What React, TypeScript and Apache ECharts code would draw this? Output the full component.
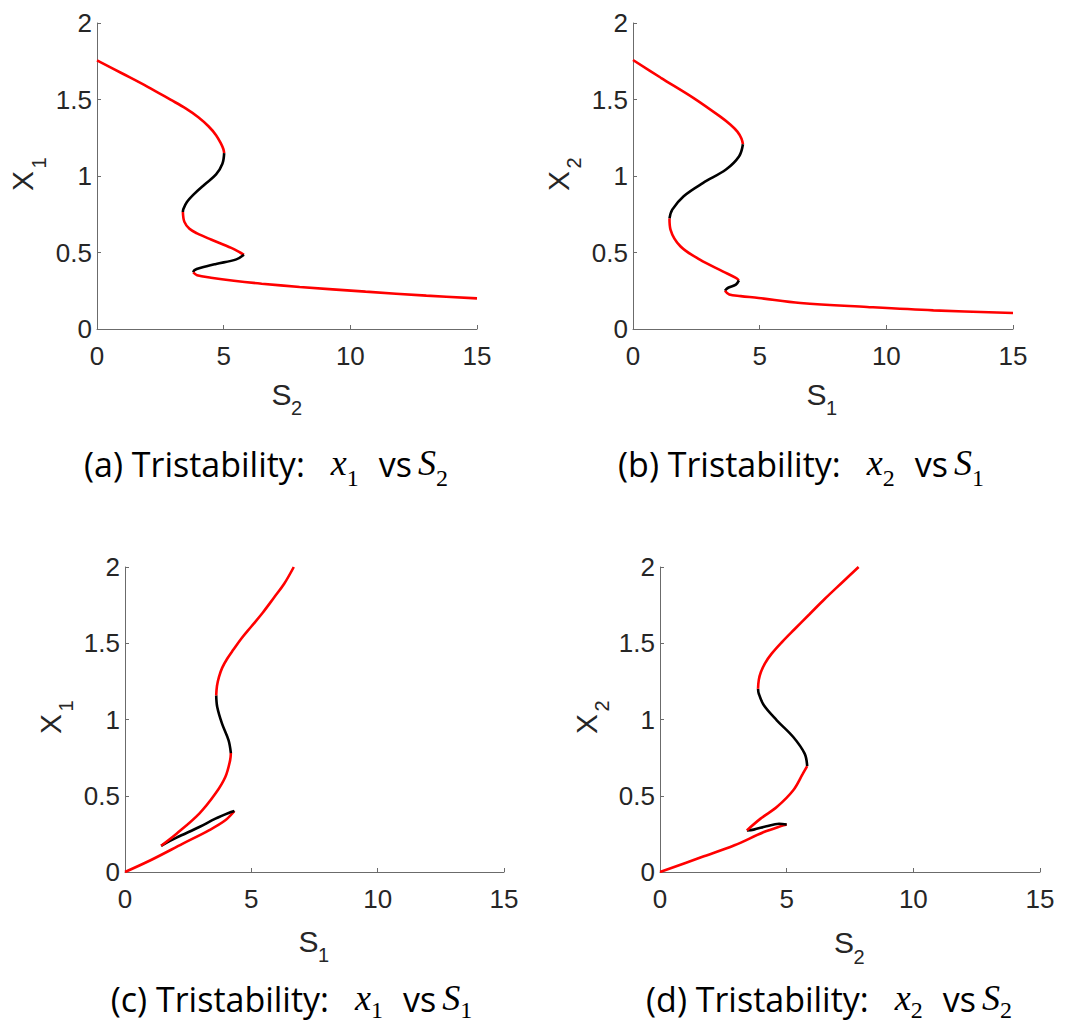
import React, { useEffect, useRef } from "react";
import * as echarts from "echarts";

// ---------- data (S, x) pairs ----------
// (a) x1 vs S2
const aRed1 = [[0, 1.756], [1.0, 1.67], [2.0, 1.583], [2.9, 1.499], [3.5, 1.442], [4.0, 1.384], [4.4, 1.325], [4.7, 1.267], [4.9, 1.21], [4.99, 1.175], [5.02, 1.15]];
const aBlack1 = [[5.02, 1.15], [4.95, 1.08], [4.7, 1.01], [4.25, 0.945], [3.85, 0.885], [3.55, 0.83], [3.41, 0.785], [3.39, 0.765]];
const aRed2 = [[3.39, 0.765], [3.45, 0.7], [3.65, 0.655], [3.95, 0.625], [4.5, 0.585], [5.3, 0.53], [5.65, 0.5], [5.8, 0.485]];
const aBlack2 = [[5.8, 0.485], [5.5, 0.455], [4.7, 0.425], [4.1, 0.4], [3.85, 0.385], [3.8, 0.37]];
const aRed3 = [[3.8, 0.37], [3.95, 0.352], [4.5, 0.335], [5.4, 0.315], [6.5, 0.296], [8.0, 0.275], [10.6, 0.244], [13, 0.218], [15, 0.2]];

// (b) x2 vs S1
const bRed1 = [[0, 1.758], [1.1, 1.642], [2.38, 1.511], [3.42, 1.391], [3.85, 1.335], [4.12, 1.29], [4.28, 1.245], [4.34, 1.207]];
const bBlack1 = [[4.34, 1.207], [4.19, 1.129], [3.67, 1.042], [2.77, 0.955], [2.0, 0.868], [1.55, 0.78], [1.44, 0.722]];
const bRed2 = [[1.44, 0.722], [1.48, 0.65], [1.87, 0.541], [2.64, 0.453], [3.54, 0.377], [4.06, 0.334], [4.18, 0.318]];
const bBlack2 = [[4.18, 0.318], [4.06, 0.29], [3.74, 0.268], [3.63, 0.25]];
const bRed3 = [[3.63, 0.25], [3.8, 0.225], [4.25, 0.215], [4.96, 0.203], [6.61, 0.17], [9.24, 0.144], [11.86, 0.122], [15, 0.105]];

// (c) x1 vs S1
const cRed1 = [[0, 0], [1.01, 0.077], [2.29, 0.186], [3.32, 0.273], [3.97, 0.339], [4.33, 0.4]];
const cBlack1 = [[4.33, 0.4], [4.1, 0.387], [3.58, 0.35], [2.94, 0.295], [2.04, 0.225], [1.43, 0.172]];
const cRed2 = [[1.43, 0.172], [2.04, 0.251], [2.94, 0.383], [3.58, 0.514], [3.97, 0.623], [4.16, 0.732], [4.19, 0.78]];
const cBlack2 = [[4.19, 0.78], [4.1, 0.863], [3.84, 0.973], [3.65, 1.082], [3.61, 1.158]];
const cRed3 = [[3.61, 1.158], [3.64, 1.22], [3.72, 1.28], [3.85, 1.34], [4.05, 1.4], [4.3, 1.46], [4.6, 1.53], [5.0, 1.61], [5.45, 1.7], [5.9, 1.8], [6.3, 1.89], [6.68, 2.0]];

// (d) x2 vs S2
const dRed1 = [[0, 0], [1.65, 0.098], [2.94, 0.175], [4.1, 0.262], [4.87, 0.306], [5.0, 0.312]];
const dBlack1 = [[5.0, 0.312], [4.7, 0.316], [4.2, 0.3], [3.7, 0.278], [3.43, 0.273]];
const dRed2 = [[3.43, 0.273], [3.97, 0.35], [4.61, 0.426], [5.26, 0.536], [5.64, 0.645], [5.81, 0.695]];
const dBlack2 = [[5.81, 0.695], [5.71, 0.776], [5.26, 0.885], [4.61, 0.995], [4.1, 1.093], [3.9, 1.169], [3.87, 1.202]];
const dRed3 = [[3.87, 1.202], [3.9, 1.26], [3.98, 1.31], [4.15, 1.37], [4.4, 1.43], [4.8, 1.505], [5.3, 1.59], [5.9, 1.69], [6.5, 1.79], [7.2, 1.9], [7.84, 2.0]];

const xMin = 0, xMax = 15, xStep = 5;
const yMin = 0, yMax = 2, yStep = 0.5;

const panelLetters = ["a", "b", "c", "d"];
const yNames = [["X", "1"], ["X", "2"], ["X", "1"], ["X", "2"]];
const xNames = [["S", "2"], ["S", "1"], ["S", "1"], ["S", "2"]];
const titleVars = [["x", "1", "S", "2"], ["x", "2", "S", "1"], ["x", "1", "S", "1"], ["x", "2", "S", "2"]];
const curves = [
  [aRed1, aBlack1, aRed2, aBlack2, aRed3],
  [bRed1, bBlack1, bRed2, bBlack2, bRed3],
  [cRed1, cBlack1, cRed2, cBlack2, cRed3],
  [dRed1, dBlack1, dRed2, dBlack2, dRed3],
];

// ---------- layout ----------
const grids = [
  { left: 97, top: 23, width: 380, height: 306 },
  { left: 633, top: 23, width: 380, height: 306 },
  { left: 125, top: 567, width: 379, height: 305 },
  { left: 660, top: 567, width: 380, height: 305 },
];
const yNamePos = [[22.5, 181], [558, 181], [50, 724], [586, 724]];
const xNamePos = [[281.5, 394], [816.5, 394], [308.5, 941], [844, 942.5]];
const titleCenters = [[266, 474], [801, 474], [291.5, 1009], [829, 1009]];
const subDrops = [11, 11, 8, 8];

const SANS = '"Open Sans"';
const AX_FONT = "Liberation Sans";
const SERIF = "Liberation Serif";

function measure(text: string, font: string): number {
  const c = document.createElement("canvas").getContext("2d");
  if (!c) return text.length * 15;
  c.font = font;
  return c.measureText(text).width;
}

function titleElements(i: number) {
  const [v, vs, s, ss] = titleVars[i];
  const [cx, base] = titleCenters[i];
  const drop = subDrops[i];
  const mainSize = 34, mathSize = 36, subSize = 24;
  const fMain = `${mainSize}px ${SANS}`;
  const fMath = `italic ${mathSize}px "${SERIF}"`;
  const fSub = `${subSize}px "${SERIF}"`;
  const seq: any[] = [
    { t: `(${panelLetters[i]}) Tristability:`, f: fMain, off: 0.29 * mainSize, dy: 0 },
    { gap: 26 },
    { t: v, f: fMath, off: 0.305 * mathSize, dy: 0 },
    { t: vs, f: fSub, off: 0.305 * subSize, dy: drop },
    { gap: 20 },
    { t: "vs", f: fMain, off: 0.29 * mainSize, dy: 0 },
    { gap: 6 },
    { t: s, f: fMath, off: 0.305 * mathSize, dy: 0 },
    { t: ss, f: fSub, off: 0.305 * subSize, dy: drop },
  ];
  let total = 0;
  seq.forEach((p) => {
    if (p.gap) total += p.gap;
    else { p.w = measure(p.t, p.f); total += p.w; }
  });
  let cur = cx - total / 2;
  const els: any[] = [];
  seq.forEach((p) => {
    if (p.gap) { cur += p.gap; return; }
    els.push({
      type: "text",
      x: cur,
      y: base + p.dy - p.off,
      style: { text: p.t, font: p.f, fill: "#000", align: "left", verticalAlign: "middle" },
    });
    cur += p.w;
  });
  return els;
}

function nameElements(i: number) {
  const els: any[] = [];
  const big = `30px "${AX_FONT}"`;
  const small = `20px "${AX_FONT}"`;
  const [yx, yy] = yNamePos[i];
  els.push({ type: "text", x: yx, y: yy, rotation: Math.PI / 2,
    style: { text: yNames[i][0], font: big, fill: "#262626", align: "center", verticalAlign: "middle" } });
  els.push({ type: "text", x: yx + 16, y: yy - 18, rotation: Math.PI / 2,
    style: { text: yNames[i][1], font: small, fill: "#262626", align: "center", verticalAlign: "middle" } });
  const [xx, xy] = xNamePos[i];
  els.push({ type: "text", x: xx, y: xy,
    style: { text: xNames[i][0], font: big, fill: "#262626", align: "center", verticalAlign: "middle" } });
  els.push({ type: "text", x: xx + 15, y: xy + 14,
    style: { text: xNames[i][1], font: small, fill: "#262626", align: "center", verticalAlign: "middle" } });
  return els;
}

export default function App() {
  const ref = useRef<HTMLDivElement>(null);
  useEffect(() => {
    if (!ref.current) return;
    const chart = echarts.init(ref.current, null, { renderer: "svg" });
    const axisCommon = {
      axisLine: { show: true, lineStyle: { color: "#6b6b6b", width: 1 } },
      axisTick: { show: true, inside: true, length: 4, lineStyle: { color: "#6b6b6b", width: 1 } },
      splitLine: { show: false },
    };
    const labelCommon = { color: "#262626", fontSize: 26, fontFamily: AX_FONT };
    const xAxes = grids.map((_, i) => ({
      type: "value", gridIndex: i, min: xMin, max: xMax, interval: xStep,
      ...axisCommon,
      axisLabel: { ...labelCommon, margin: 14 },
    }));
    const yAxes = grids.map((_, i) => ({
      type: "value", gridIndex: i, min: yMin, max: yMax, interval: yStep,
      ...axisCommon,
      axisLabel: { ...labelCommon, margin: 5 },
    }));
    const series: any[] = [];
    curves.forEach((segs, i) => {
      segs.forEach((seg, k) => {
        series.push({
          type: "line",
          xAxisIndex: i,
          yAxisIndex: i,
          data: seg,
          showSymbol: false,
          smooth: 0.35,
          lineStyle: { color: k % 2 === 0 ? "#ff0000" : "#000000", width: 2.6 },
          silent: true,
        });
      });
    });
    const graphic: any[] = [];
    for (let i = 0; i < 4; i++) {
      graphic.push(...nameElements(i));
      graphic.push(...titleElements(i));
    }
    chart.setOption({
      animation: false,
      backgroundColor: "#ffffff",
      grid: grids.map((g) => ({ ...g, containLabel: false })),
      xAxis: xAxes,
      yAxis: yAxes,
      series,
      graphic,
    });
    return () => chart.dispose();
  }, []);
  return (
    <div
      ref={ref}
      style={{ position: "fixed", left: 0, top: 0, width: 1068, height: 1023, background: "#fff" }}
    />
  );
}
